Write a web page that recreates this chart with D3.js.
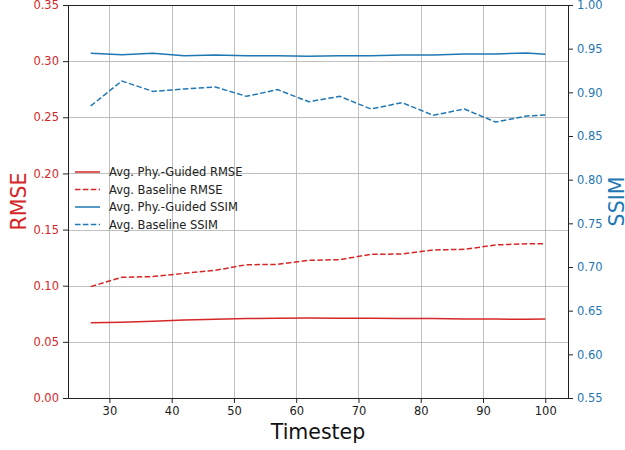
<!DOCTYPE html>
<html>
<head>
<meta charset="utf-8">
<script src="https://cdn.jsdelivr.net/npm/d3@7"></script>
<style>
  body { margin: 0; background: #fff; }
  svg { display: block; font-family: "DejaVu Sans", sans-serif; }
  .grid line { stroke: #b0b0b0; stroke-width: 0.8; }
  .axis path, .axis line { stroke: #222; }
</style>
</head>
<body>
<div id="chart"></div>
<script>
// chart values
let timesteps = [27, 32, 37, 42, 47, 52, 57, 62, 67, 72, 77, 82, 87, 92, 97, 100];
let phyRmse  = [0.0671, 0.0674, 0.0683, 0.0695, 0.0701, 0.0707, 0.0710, 0.0712, 0.0711, 0.0711, 0.0709, 0.0707, 0.0704, 0.0703, 0.0701, 0.0704];
let baseRmse = [0.0992, 0.1075, 0.1081, 0.1110, 0.1137, 0.1187, 0.1190, 0.1226, 0.1232, 0.1280, 0.1282, 0.1318, 0.1324, 0.1363, 0.1374, 0.1374];
let phySsim  = [0.9447, 0.9431, 0.9447, 0.9420, 0.9428, 0.9420, 0.9420, 0.9412, 0.9420, 0.9420, 0.9428, 0.9428, 0.9439, 0.9439, 0.9450, 0.9435];
let baseSsim = [0.8844, 0.9130, 0.9011, 0.9038, 0.9061, 0.8954, 0.9031, 0.8893, 0.8954, 0.8809, 0.8882, 0.8737, 0.8809, 0.8660, 0.8729, 0.8740];
let xTicks = [30, 40, 50, 60, 70, 80, 90, 100];
let rmseTicks = [0, 0.05, 0.10, 0.15, 0.20, 0.25, 0.30, 0.35];
let ssimTicks = [0.55, 0.60, 0.65, 0.70, 0.75, 0.80, 0.85, 0.90, 0.95, 1.00];

const red = '#d62728', blue = '#1f77b4';
const W = 625, H = 450;
const m = {left: 68, right: 568, top: 5, bottom: 398};

let svg = d3.select('#chart').append('svg').attr('width', W).attr('height', H);

let x = d3.scaleLinear().domain([23.35, 103.65]).range([m.left, m.right]);
let yL = d3.scaleLinear().domain([0, 0.35]).range([m.bottom, m.top]);
let yR = d3.scaleLinear().domain([0.55, 1.00]).range([m.bottom, m.top]);

// grid
let grid = svg.append('g').attr('class', 'grid');
grid.selectAll('.gx').data(xTicks).enter().append('line')
    .attr('x1', d => Math.round(x(d)) + 0.5).attr('x2', d => Math.round(x(d)) + 0.5)
    .attr('y1', m.top).attr('y2', m.bottom);
grid.selectAll('.gy').data(rmseTicks).enter().append('line')
    .attr('x1', m.left).attr('x2', m.right)
    .attr('y1', d => Math.round(yL(d)) + 0.5).attr('y2', d => Math.round(yL(d)) + 0.5);

// series
let series = [
    {name: 'Avg. Phy.-Guided RMSE', values: phyRmse, y: yL, color: red, dash: null},
    {name: 'Avg. Baseline RMSE', values: baseRmse, y: yL, color: red, dash: '5.5,2.4'},
    {name: 'Avg. Phy.-Guided SSIM', values: phySsim, y: yR, color: blue, dash: null},
    {name: 'Avg. Baseline SSIM', values: baseSsim, y: yR, color: blue, dash: '5.5,2.4'}
];

for (let s of series) {
    let line = d3.line().x((d, i) => x(timesteps[i])).y(d => s.y(d));
    svg.append('path')
        .datum(s.values)
        .attr('d', line)
        .attr('fill', 'none')
        .attr('stroke', s.color)
        .attr('stroke-width', 1.5)
        .attr('stroke-dasharray', s.dash);
}

// axes
let xAxis = svg.append('g').attr('class', 'axis')
    .attr('transform', `translate(0,${m.bottom})`)
    .call(d3.axisBottom(x).tickValues(xTicks).tickSize(5).tickSizeOuter(0).tickPadding(4));
xAxis.selectAll('text').attr('font-size', 11.5).attr('fill', '#1a1a1a').attr('font-family', 'DejaVu Sans');

let lAxis = svg.append('g').attr('class', 'axis')
    .attr('transform', `translate(${m.left},0)`)
    .call(d3.axisLeft(yL).tickValues(rmseTicks).tickFormat(d3.format('.2f')).tickSize(5).tickSizeOuter(0).tickPadding(4));
lAxis.selectAll('text').attr('font-size', 11.5).attr('fill', red).attr('font-family', 'DejaVu Sans');

let rAxis = svg.append('g').attr('class', 'axis')
    .attr('transform', `translate(${m.right},0)`)
    .call(d3.axisRight(yR).tickValues(ssimTicks).tickFormat(d3.format('.2f')).tickSize(5).tickSizeOuter(0).tickPadding(4));
rAxis.selectAll('text').attr('font-size', 11.5).attr('fill', blue).attr('font-family', 'DejaVu Sans');

// top spine
svg.append('line')
    .attr('x1', m.left).attr('x2', m.right).attr('y1', m.top + 0.5).attr('y2', m.top + 0.5)
    .attr('stroke', '#222');

// axis titles
svg.append('text').text('Timestep')
    .attr('x', (m.left + m.right) / 2).attr('y', 439)
    .attr('text-anchor', 'middle').attr('font-size', 20.5).attr('fill', '#111');

svg.append('text').text('RMSE')
    .attr('transform', `translate(26,${(m.top + m.bottom) / 2}) rotate(-90)`)
    .attr('text-anchor', 'middle').attr('font-size', 20.5).attr('fill', red);

svg.append('text').text('SSIM')
    .attr('transform', `translate(623.5,${(m.top + m.bottom) / 2}) rotate(-90)`)
    .attr('text-anchor', 'middle').attr('font-size', 20.5).attr('fill', blue);

// legend
let legend = svg.append('g').selectAll('g').data(series).enter().append('g')
    .attr('transform', (d, i) => `translate(75,${172 + i * 17.5})`);
legend.append('line')
    .attr('x1', 0).attr('x2', 25).attr('y1', 0).attr('y2', 0)
    .attr('stroke', d => d.color).attr('stroke-width', 1.5)
    .attr('stroke-dasharray', d => d.dash);
legend.append('text').text(d => d.name)
    .attr('x', 34).attr('y', 4.2)
    .attr('font-size', 11.5).attr('fill', '#222');
</script>
</body>
</html>
